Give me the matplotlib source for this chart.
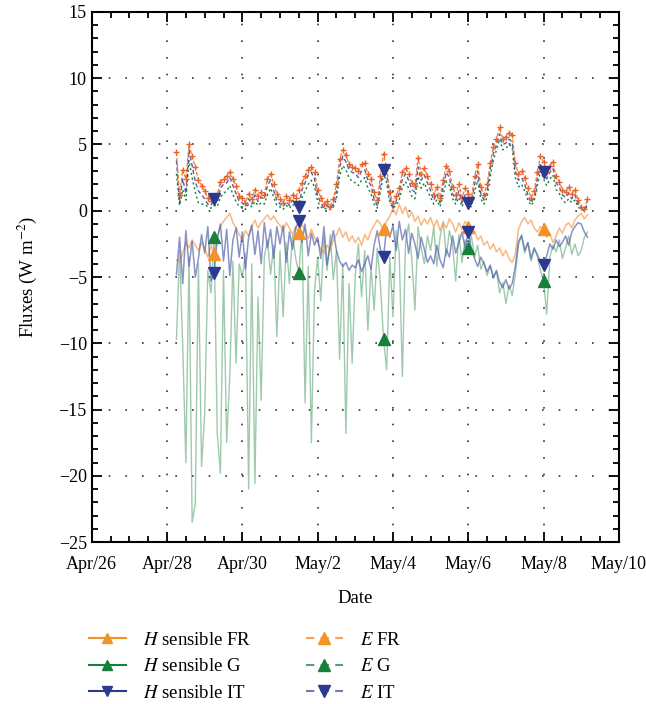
import matplotlib
matplotlib.use("Agg")
import matplotlib.pyplot as plt
import matplotlib.dates as mdates
from matplotlib.lines import Line2D
from matplotlib.ticker import MultipleLocator
import pandas as pd

plt.rcParams['font.family'] = ['Liberation Serif', 'DejaVu Serif']
plt.rcParams['mathtext.fontset'] = 'stix'

# sampling of the series (every 2 h)
start_time = "2015-04-28 06:00"
step = "2h"

# E FR (W m-2), one row per day (Apr 28 starts at 06:00, May 9 ends at 04:00)
e_fr = [4.4, 1.2, 3.1, 2.4, 5.0, 4.1, 3.3, 2.3, 1.9,
        1.5, 1.0, 0.7, 0.9, 1.2, 2.2, 2.4, 2.6, 2.9, 2.4, 1.9, 1.1,
        1.0, 0.6, 1.3, 0.9, 1.6, 1.1, 1.4, 1.2, 2.4, 2.8, 2.0, 1.3,
        0.9, 0.6, 1.1, 0.8, 1.2, 1.0, 1.6, 2.1, 2.6, 3.1, 3.3, 2.9,
        1.6, 1.0, 0.5, 0.7, 0.3, 0.9, 2.0, 3.9, 4.6, 4.2, 3.5, 3.3,
        3.2, 3.0, 3.5, 3.6, 2.8, 2.4, 1.4, 0.8, 2.6, 4.3, 3.2, 1.4,
        0.6, 1.1, 1.7, 2.9, 3.2, 2.8, 2.1, 1.9, 4.0, 2.8, 3.2, 2.6,
        2.0, 1.2, 1.8, 1.0, 2.3, 3.4, 3.0, 1.8, 1.2, 2.0, 1.0, 1.7,
        1.3, 0.9, 2.6, 3.5, 1.8, 1.2, 2.0, 3.6, 4.8, 5.4, 6.3, 5.4,
        5.6, 5.9, 5.7, 3.6, 2.8, 3.0, 2.5, 1.7, 1.0, 1.5, 2.9, 4.1,
        3.7, 2.9, 3.4, 3.7, 2.6, 2.2, 1.6, 1.4, 1.8, 1.3, 1.6, 0.8,
        0.3, 0.1, 0.9]

e_g = [2.8, 0.4, 1.6, 0.8, 3.8, 2.5, 1.4, 0.6, 0.5,
       0.5, 0.3, 0.2, 0.4, 0.3, 1.0, 1.3, 1.5, 1.9, 1.2, 0.7, 0.3,
       0.3, 0.1, 0.5, 0.3, 0.7, 0.4, 0.6, 0.5, 1.2, 1.7, 1.0, 0.4,
       0.3, 0.1, 0.4, 0.2, 0.5, 0.3, 0.6, 1.0, 1.5, 2.0, 2.3, 1.8,
       0.7, 0.3, 0.1, 0.2, 0.1, 0.3, 0.9, 2.6, 3.4, 3.1, 2.5, 2.2,
       2.1, 1.9, 2.3, 2.5, 1.7, 1.3, 0.5, 0.2, 1.4, 2.8, 2.1, 0.6,
       0.2, 0.4, 0.8, 1.8, 2.2, 1.7, 1.1, 0.9, 2.6, 1.7, 2.1, 1.5,
       1.0, 0.5, 0.8, 0.3, 1.2, 2.2, 1.9, 0.9, 0.5, 1.0, 0.3, 0.8,
       0.4, 0.3, 1.4, 2.3, 0.9, 0.5, 1.0, 2.6, 3.8, 4.6, 5.4, 4.6,
       4.7, 5.0, 4.8, 2.5, 1.8, 2.0, 1.5, 0.8, 0.4, 0.7, 1.9, 3.0,
       2.4, 1.9, 2.4, 2.7, 1.6, 1.3, 0.8, 0.6, 0.9, 0.6, 0.8, 0.3,
       0.1, 0.0, 0.4]

e_it = [3.8, 0.6, 2.4, 1.3, 4.6, 3.4, 2.2, 1.5, 1.2,
        0.9, 0.5, 0.4, 0.9, 0.6, 1.7, 2.0, 2.1, 2.5, 1.9, 1.3, 0.7,
        0.6, 0.3, 0.9, 0.5, 1.2, 0.7, 1.0, 0.9, 1.9, 2.3, 1.5, 0.8,
        0.5, 0.3, 0.7, 0.4, 0.8, 0.6, 0.3, 1.6, 2.1, 2.7, 2.9, 2.4,
        1.1, 0.6, 0.2, 0.4, 0.2, 0.5, 1.5, 3.3, 4.1, 3.7, 3.1, 2.9,
        2.8, 2.5, 3.0, 3.1, 2.3, 1.9, 0.9, 0.4, 2.0, 3.1, 2.7, 1.0,
        0.3, 0.7, 1.3, 2.4, 2.8, 2.3, 1.6, 1.4, 3.3, 2.3, 2.7, 2.1,
        1.5, 0.8, 1.3, 0.6, 1.8, 2.9, 2.5, 1.3, 0.8, 1.5, 0.6, 1.2,
        0.6, 0.5, 2.0, 3.0, 1.3, 0.8, 1.5, 3.1, 4.3, 5.0, 5.8, 5.0,
        5.1, 5.4, 5.2, 3.0, 2.3, 2.5, 2.0, 1.2, 0.6, 1.0, 2.4, 3.6,
        2.9, 2.4, 2.9, 3.2, 2.1, 1.8, 1.2, 1.0, 1.3, 0.9, 1.2, 0.5,
        0.2, 0.0, 0.6]

h_fr = [-3.7, -3.9, -3.2, -2.4, -2.8, -2.2, -2.6, -3.0, -2.4,
        -2.8, -3.5, -2.6, -3.3, -2.0, -1.2, -0.8, -0.5, -0.2, -0.9, -1.3, -1.8,
        -2.2, -1.5, -1.9, -1.2, -0.7, -1.3, -0.9, -0.6, -0.3, -0.7, -0.4, -0.8,
        -1.1, -1.5, -0.9, -1.3, -1.8, -1.2, -1.7, -1.0, -1.5, -2.1, -1.4, -2.0,
        -2.4, -2.9, -3.2, -2.6, -3.0, -2.2, -1.8, -1.3, -2.0, -1.6, -2.3, -1.9,
        -2.4, -2.0, -2.6, -1.8, -2.2, -1.5, -1.1, -0.7, -1.0, -1.4, -0.8, -0.4,
        0.2, -0.3, 0.5, -0.2, 0.3, -0.5, -0.1, -0.8, -0.4, -1.1, -0.6, -1.0,
        -0.5, -1.2, -0.7, -1.5, -0.9, -1.3, -0.6, -1.0, -1.6, -0.9, -1.4, -0.8,
        -1.2, -1.8, -1.5, -2.2, -1.9, -2.6, -2.3, -2.9, -2.5, -3.1, -2.8, -3.4,
        -3.0, -3.6, -3.9, -3.3, -1.4, -0.8, -0.5, -1.0, -0.7, -1.3, -1.6, -1.2,
        -1.4, -2.0, -1.7, -2.4, -1.9, -1.3, -1.7, -1.1, -0.9, -1.3, -0.7, -0.4,
        -0.2, -0.6, -0.3]

h_g = [-9.7, -3.0, -10.2, -19.0, -3.5, -23.5, -22.1, -4.0, -19.3,
       -15.3, -4.5, -6.2, -2.0, -16.8, -19.8, -4.5, -17.5, -12.5, -3.8, -11.5, -4.0,
       -5.0, -3.2, -21.0, -4.0, -20.6, -6.5, -14.3, -3.5, -2.2, -4.8, -2.6, -9.5,
       -3.0, -8.0, -2.4, -5.5, -1.8, -3.6, -4.7, -1.5, -14.5, -4.2, -17.5, -6.0,
       -3.5, -6.8, -2.0, -4.5, -1.8, -5.2, -3.0, -11.2, -4.0, -16.8, -5.5, -11.5,
       -4.8, -2.5, -6.5, -3.0, -9.0, -4.2, -7.5, -2.8, -5.5, -9.7, -12.0, -3.5,
       -8.0, -1.5, -3.2, -12.5, -2.4, -1.0, -3.6, -7.5, -1.2, -2.8, -4.0, -1.9,
       -3.0, -1.2, -4.2, -2.0, -0.8, -3.4, -1.5, -2.6, -5.3, -1.8, -3.9, -2.2,
       -2.8, -1.9, -3.5, -2.6, -4.4, -3.8, -4.9, -4.2, -5.1, -4.6, -6.2, -5.4,
       -7.0, -5.6, -6.4, -4.8, -2.6, -1.8, -3.2, -2.4, -3.8, -2.9, -3.4, -4.5,
       -5.3, -7.8, -3.5, -2.6, -3.1, -2.2, -3.6, -2.8, -1.9, -3.3, -2.5, -3.4,
       -3.0, -2.0, -1.6]

h_it = [-4.8, -2.0, -5.5, -1.5, -4.2, -2.3, -5.0, -3.6, -1.8,
        -3.2, -1.2, -5.3, -4.7, -2.1, -1.0, -3.8, -1.4, -4.9, -2.2, -1.3, -3.5,
        -1.6, -4.4, -2.0, -1.1, -3.3, -1.5, -4.0, -0.9, -2.8, -1.4, -3.6, -1.2,
        -2.5, -1.1, -3.9, -1.6, -2.9, -1.3, -0.8, -2.4, -1.0, -3.4, -1.7, -2.6,
        -2.0, -3.6, -1.2, -4.1, -2.7, -1.5, -3.0, -3.8, -4.2, -3.9, -4.5, -4.1,
        -4.3, -3.7, -4.6, -4.0, -3.4, -4.4, -2.6, -1.5, -2.9, -3.5, -1.2, -2.0,
        -1.1, -3.0, -0.8, -2.2, -1.4, -3.2, -1.7, -2.5, -3.6, -2.0, -2.9, -3.9,
        -3.4, -4.0, -2.6, -3.7, -4.3, -2.9, -3.5, -1.9, -3.2, -2.4, -1.6, -2.8,
        -1.6, -2.9, -3.6, -4.2, -3.5, -4.0, -4.6, -4.1, -5.0, -4.5, -5.4, -5.8,
        -5.2, -5.9, -5.5, -4.2, -2.3, -1.9, -3.0, -2.4, -3.6, -2.8, -3.3, -3.9,
        -4.1, -3.4, -2.5, -2.9, -2.2, -2.7, -2.4, -1.9, -2.6, -1.6, -1.2, -0.9,
        -1.0, -1.6, -2.0]

labels = ["$H$ sensible FR", "$H$ sensible G", "$H$ sensible IT",
          "$E$ FR", "$E$ G", "$E$ IT"]

orange = "#F39325"
green = "#17803B"
blue = "#2B3990"
marks = [12, 39, 66, 93, 117]

times = pd.date_range(start_time, periods=len(e_fr), freq=step)


def add_marks(ax, values, marker, color):
    ax.plot(times[marks], [values[i] for i in marks], ls="none",
            marker=marker, ms=9, color=color, zorder=5)


fig = plt.figure(figsize=(6.46, 7.04), dpi=100)
ax = fig.add_axes([0.142, 0.230, 0.816, 0.753])

# negative (sensible) fluxes, light solid lines
ax.plot(times, h_g, color="#4E9E6A", alpha=0.55, lw=1.0)
ax.plot(times, h_fr, color="#F7A258", alpha=0.75, lw=1.1)
ax.plot(times, h_it, color="#4A5AA8", alpha=0.65, lw=1.1)

# positive fluxes, dashed lines
ax.plot(times, e_g, color=green, lw=1.0, ls=(0, (1.5, 2)))
ax.plot(times, e_it, color=blue, lw=1.0, ls=(0, (3, 2)), alpha=0.8)
ax.plot(times, e_fr, color="#EE7A35", lw=0.9, ls=(0, (3, 1.5)),
        marker="+", ms=4, mew=1.0, mec="#E8622A")

add_marks(ax, h_g, "^", green)
add_marks(ax, h_fr, "^", orange)
add_marks(ax, h_it, "v", blue)
add_marks(ax, e_it, "v", blue)

ax.set_ylim(-25, 15)
ax.set_xlim(pd.Timestamp("2015-04-26"), pd.Timestamp("2015-05-10"))
ax.yaxis.set_major_locator(MultipleLocator(5))
ax.yaxis.set_minor_locator(MultipleLocator(1))
ax.xaxis.set_major_locator(mdates.DayLocator(bymonthday=range(2, 32, 2)))
ax.xaxis.set_minor_locator(mdates.HourLocator(byhour=[0, 12]))
ax.xaxis.set_major_formatter(mdates.DateFormatter("%b/%-d"))

ax.tick_params(which="both", direction="in", top=True, right=True,
               labelsize=13.0, width=1.3)
ax.tick_params(which="major", length=7)
ax.tick_params(which="minor", length=4)
ax.tick_params(axis="x", which="major", pad=10)
for s in ax.spines.values():
    s.set_linewidth(1.5)
ax.grid(True, which="major", ls=(0, (1, 9)), color="#333333", lw=1.2)

ax.set_xlabel("Date", fontsize=13.5, labelpad=12)
ax.set_ylabel("Fluxes (W m$^{-2}$)", fontsize=13.5, labelpad=14)

handles = [
    Line2D([], [], color=orange, lw=1.5, marker="^", ms=7),
    Line2D([], [], color=green, lw=1.5, marker="^", ms=7),
    Line2D([], [], color=blue, lw=1.5, marker="v", ms=7),
    Line2D([], [], color="#F7A258", lw=1.5, ls=(0, (4, 3)), marker="^", ms=8, mfc=orange, mec=orange),
    Line2D([], [], color="#5E9E78", lw=1.5, ls=(0, (4, 3)), marker="^", ms=9, mfc=green, mec=green),
    Line2D([], [], color="#6F7BBE", lw=1.5, ls=(0, (4, 3)), marker="v", ms=9, mfc=blue, mec=blue),
]
fig.legend(handles, labels, ncol=2, loc="upper left", bbox_to_anchor=(0.137, 0.103),
           frameon=False, fontsize=13.5, handlelength=2.0, handletextpad=0.9,
           columnspacing=2.9, labelspacing=0.5, borderaxespad=0, borderpad=0)

fig.savefig("out.png", dpi=100)
